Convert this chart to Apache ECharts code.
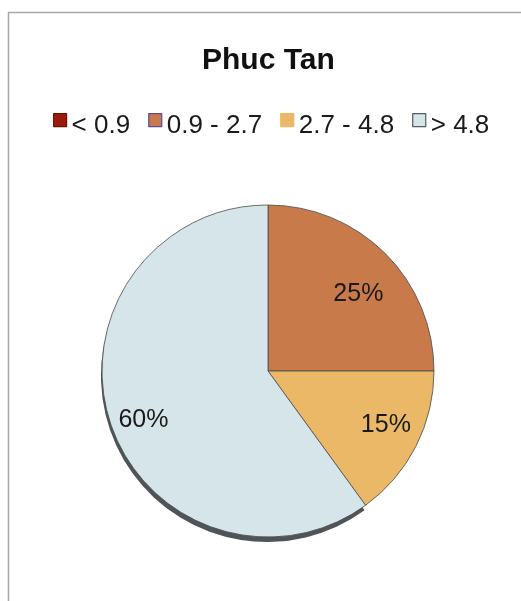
<!DOCTYPE html>
<html>
<head>
<meta charset="utf-8">
<script src="https://cdn.jsdelivr.net/npm/echarts@6/dist/echarts.min.js"></script>
<style>
  html, body { margin: 0; padding: 0; background: #fff; }
  #chart { width: 521px; height: 601px; }
</style>
</head>
<body>
<div id="chart"></div>
<script>
const titleText = "Phuc Tan";
const categories = ["< 0.9", "0.9 - 2.7", "2.7 - 4.8", "> 4.8"];
const shares = [0, 25, 15, 60];
const sliceColors = ["#9b1b0e", "#c97a4a", "#ebb867", "#d6e5e9"];
const legendBorders = ["#6a1208", "#5b4c96", "#ebb867", "#555b5e"];
// small label nudges (px) so labels sit where the original placed them
const labelNudge = [[0, 0], [0, 13], [4, -4], [-3, 10]];

const CX = 268, CY = 371, R = 166;
const LABEL_POS = 0.77; // fraction of radius

function midAngle(idx){
  // degrees clockwise from 12 o'clock
  const total = shares.reduce((a,b) => a + b, 0);
  let before = 0;
  for (let i = 0; i < idx; i++) before += shares[i];
  return (before + shares[idx] / 2) / total * 360;
}

const chart = echarts.init(document.getElementById("chart"));

const pieData = categories.map((c, i) => ({
  name: c, value: shares[i], itemStyle: { color: sliceColors[i] }
}));

// dark rim under the big slice only (3D side of the pie)
const rimData = categories.map((c, i) => ({
  name: c, value: shares[i],
  itemStyle: { color: i === 3 ? "#4e5457" : "rgba(0,0,0,0)" }
}));

// square sitting in the upper part of a taller box, so it rides a little above the text middle
const legendIcon = "path://M0,0L13,0L13,13L0,13Z M0,25L0,25";

const option = {
  animation: false,
  graphic: [{
    type: "rect",
    shape: { x: 8.5, y: 12.5, width: 600, height: 700 },
    style: { fill: "none", stroke: "#a9a9a9", lineWidth: 1.5 },
    z: -10
  }],
  title: {
    text: titleText,
    left: 197,
    top: 41,
    textStyle: { fontFamily: "Liberation Sans, Arial", fontWeight: "bold", fontSize: 30, color: "#111" }
  },
  legend: {
    left: 48,
    top: 108,
    itemWidth: 13,
    itemHeight: 25,
    itemGap: 18,
    icon: legendIcon,
    selectedMode: false,
    textStyle: { fontFamily: "Liberation Sans, Arial", fontSize: 26, color: "#1a1a1a" },
    data: categories.map((c, i) => ({
      name: c,
      itemStyle: { color: sliceColors[i], borderColor: legendBorders[i], borderWidth: 1.2 }
    }))
  },
  series: [{
    type: "pie",
    silent: true,
    center: [CX - 1, CY + 5],
    radius: R,
    startAngle: 90,
    clockwise: true,
    z: 1,
    label: { show: false },
    labelLine: { show: false },
    itemStyle: { borderWidth: 0 },
    emphasis: { disabled: true },
    legendHoverLink: false,
    data: rimData
  }, {
    type: "pie",
    center: [CX, CY],
    radius: R,
    startAngle: 90,
    clockwise: true,
    avoidLabelOverlap: false,
    minAngle: 0,
    z: 2,
    itemStyle: { borderColor: "#4a4a4a", borderWidth: 0.8 },
    emphasis: { disabled: true },
    label: {
      show: true,
      position: "inside",
      fontFamily: "Liberation Sans, Arial",
      fontSize: 25,
      color: "#1a1a1a",
      formatter: p => p.value ? p.value + "%" : ""
    },
    labelLine: { show: false },
    labelLayout: params => {
      const i = params.dataIndex;
      const a = midAngle(i) * Math.PI / 180;
      return {
        x: CX + Math.sin(a) * R * LABEL_POS + labelNudge[i][0],
        y: CY - Math.cos(a) * R * LABEL_POS + labelNudge[i][1],
        align: "center",
        verticalAlign: "middle"
      };
    },
    data: pieData
  }]
};

chart.setOption(option);
</script>
</body>
</html>
